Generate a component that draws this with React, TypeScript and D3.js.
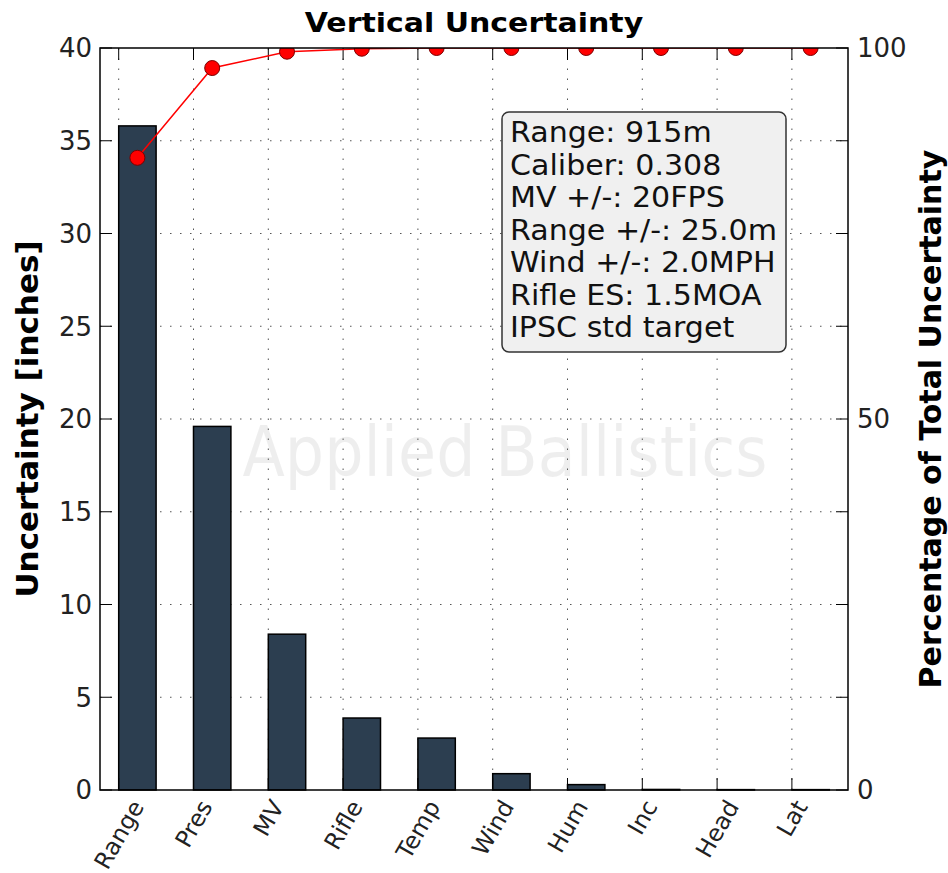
import React from 'react'
import * as d3 from 'd3'

// uncertainty sources, sorted
const categories = ['Range', 'Pres', 'MV', 'Rifle', 'Temp', 'Wind', 'Hum', 'Inc', 'Head', 'Lat']
const uncertainty = [35.8, 19.6, 8.4, 3.88, 2.8, 0.88, 0.29, 0.03, 0.02, 0.02]
// cumulative percentage of total uncertainty
const cumPercent = [85.2, 97.3, 99.5, 99.9, 100, 100, 100, 100, 100, 100]
const leftTicks = [0, 5, 10, 15, 20, 25, 30, 35, 40]
const rightTickLabels = [0, 50, 100]
const infoLines = [
  'Range: 915m',
  'Caliber: 0.308',
  'MV +/-: 20FPS',
  'Range +/-: 25.0m',
  'Wind +/-: 2.0MPH',
  'Rifle ES: 1.5MOA',
  'IPSC std target'
]

const W = 948
const H = 873
const margin = {top: 48, right: 100, bottom: 83, left: 100}
const FONT = 'DejaVu Sans, sans-serif'

let ctx: CanvasRenderingContext2D | null = null
function textWidth (s: string, size: number) {
  if (!ctx) ctx = document.createElement('canvas').getContext('2d')
  if (!ctx) return s.length * size * 0.6
  ctx.font = `${size}px "DejaVu Sans"`
  return ctx.measureText(s).width
}

export default function App () {
  const x0 = margin.left
  const x1 = W - margin.right
  const y0 = H - margin.bottom
  const y1 = margin.top

  const x = d3.scaleLinear().domain([-0.25, 9.75]).range([x0, x1])
  const yL = d3.scaleLinear().domain([0, 40]).range([y0, y1])
  const yR = d3.scaleLinear().domain([0, 100]).range([y0, y1])
  const barW = x(0.5) - x(0)

  const line = d3.line<number>()
    .x((d, i) => x(i + 0.25))
    .y((d) => yR(d))

  const tickLen = 12
  const catSize = 23.5
  const ang = Math.PI / 3

  return (
    <svg width={W} height={H} style={{position: 'absolute', left: 0, top: 0, background: '#fff'}} fontFamily={FONT}>
      <defs>
        <clipPath id='plot-clip'>
          <rect x={x0} y={y1} width={x1 - x0} height={y0 - y1} />
        </clipPath>
      </defs>

      {/* watermark */}
      <text transform={`translate(${(x0 + x1) / 2 + 31},476) scale(1,1.12)`} textAnchor='middle' fontSize={62} fill='#000' fillOpacity={0.065}>Applied Ballistics</text>

      {/* grid */}
      {leftTicks.slice(1, -1).map((t) => (
        <line key={'gy' + t} x1={x0} x2={x1} y1={yL(t)} y2={yL(t)} stroke='#555' strokeWidth={1} strokeDasharray='1.5 8.5' />
      ))}
      {categories.map((c, i) => (
        <line key={'gx' + c} x1={x(i)} x2={x(i)} y1={y0} y2={y1} stroke='#555' strokeWidth={1} strokeDasharray='1.5 8.5' />
      ))}

      {/* bars */}
      {uncertainty.map((v, i) => (
        <rect key={'b' + i} x={x(i)} y={yL(v)} width={barW} height={y0 - yL(v)} fill='#2c3e50' stroke='#000' strokeWidth={1.5} />
      ))}

      {/* ticks */}
      {leftTicks.map((t) => (
        <g key={'tl' + t}>
          <line x1={x0} x2={x0 + tickLen} y1={yL(t)} y2={yL(t)} stroke='#000' strokeWidth={1} />
          <line x1={x1} x2={x1 - tickLen} y1={yL(t)} y2={yL(t)} stroke='#000' strokeWidth={1} />
          <text x={x0 - 8} y={yL(t)} dy='0.36em' textAnchor='end' fontSize={26} fill='#222'>{t}</text>
        </g>
      ))}
      {rightTickLabels.map((t) => (
        <text key={'tr' + t} x={x1 + 9} y={yR(t)} dy='0.36em' textAnchor='start' fontSize={26} fill='#222'>{t}</text>
      ))}
      {categories.map((c, i) => {
        const w = textWidth(c, catSize)
        const h = catSize * 1.05
        const bh = w * Math.sin(ang) + h * Math.cos(ang)
        const cy = y0 + 6 + bh / 2
        return (
          <g key={'tx' + c}>
            <line x1={x(i)} x2={x(i)} y1={y0} y2={y0 - tickLen} stroke='#000' strokeWidth={1} />
            <line x1={x(i)} x2={x(i)} y1={y1} y2={y1 + tickLen} stroke='#000' strokeWidth={1} />
            <text transform={`translate(${x(i)},${cy}) rotate(-60)`} textAnchor='middle' dy='0.36em' fontSize={catSize} fill='#222'>{c}</text>
          </g>
        )
      })}

      {/* cumulative line */}
      <g clipPath='url(#plot-clip)'>
        <path d={line(cumPercent) || ''} fill='none' stroke='#ff0000' strokeWidth={1.5} />
        {cumPercent.map((v, i) => (
          <circle key={'m' + i} cx={x(i + 0.25)} cy={yR(v)} r={7.5} fill='#ff0000' stroke='#7a0000' strokeWidth={1} />
        ))}
      </g>

      {/* frame */}
      <rect x={x0} y={y1} width={x1 - x0} height={y0 - y1} fill='none' stroke='#000' strokeWidth={1.5} />

      {/* info box */}
      <rect x={502} y={112} width={284} height={240} rx={7} fill='#f0f0f0' stroke='#333' strokeWidth={1.5} />
      {infoLines.map((s, i) => (
        <text key={'info' + i} transform={`translate(510,${142 + i * 32.5}) scale(1.075,1)`} fontSize={28} fill='#111'>{s}</text>
      ))}

      {/* titles */}
      <text transform={`translate(${(x0 + x1) / 2},32) scale(1.11,1)`} textAnchor='middle' fontSize={27} fontWeight='bold'>Vertical Uncertainty</text>
      <text transform={`translate(38,${(y0 + y1) / 2}) rotate(-90)`} textAnchor='middle' fontSize={31} fontWeight='bold'>Uncertainty [inches]</text>
      <text transform={`translate(941,${(y0 + y1) / 2}) rotate(-90)`} textAnchor='middle' fontSize={30} fontWeight='bold'>Percentage of Total Uncertainty</text>
    </svg>
  )
}
